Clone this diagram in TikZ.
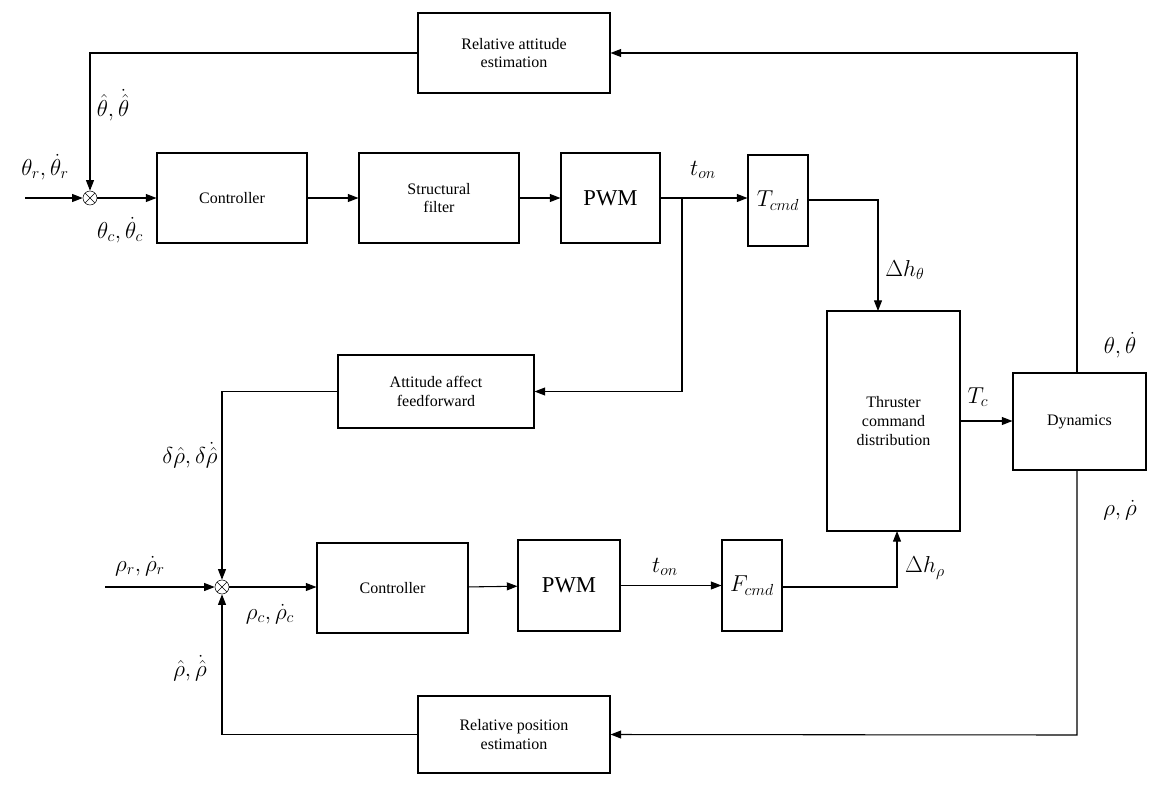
\documentclass[tikz,border=0pt]{standalone}
\usepackage{fontspec}
\setmainfont{Liberation Serif}
\usetikzlibrary{arrows.meta}
\begin{document}
\begin{tikzpicture}[x=0.75pt,y=-0.75pt,
  blk/.style={draw,thick,align=center,font=\fontsize{12}{14}\selectfont,inner sep=0},
  arr/.style={-{Triangle[length=8pt,width=6pt]},thick},
  sumn/.style={draw,circle,minimum size=10.5pt,inner sep=0,path picture={
     \draw (path picture bounding box.south west) -- (path picture bounding box.north east)
           (path picture bounding box.north west) -- (path picture bounding box.south east);}},
  lab/.style={font=\LARGE,inner sep=1pt}]
\useasboundingbox (0,0) rectangle (1157,793);
\def\bx#1#2#3#4#5#6{\node[blk,minimum width=#4*0.75pt-#2*0.75pt,minimum height=#5*0.75pt-#3*0.75pt] (#1) at ({(#2+#4)/2},{(#3+#5)/2}) {#6};}
\bx{rae}{418}{13}{610}{93}{Relative attitude\\estimation}
\bx{ct}{157}{153}{307}{243}{Controller}
\bx{sf}{359}{153}{519}{243}{Structural\\filter}
\bx{pt}{561}{153}{660}{243}{\fontsize{17}{19}\selectfont PWM}
\bx{tc}{748}{155}{808}{246}{\LARGE $T_{cmd}$}
\bx{th}{827}{311}{960}{531}{Thruster\\command\\distribution}
\bx{dy}{1013}{373}{1146}{470}{Dynamics}
\bx{ff}{338}{355}{534}{428}{Attitude affect\\feedforward}
\bx{cb}{317}{543}{468}{633}{Controller}
\bx{pb}{518}{540}{620}{631}{\fontsize{17}{19}\selectfont PWM}
\bx{fc}{722}{540}{782}{631}{\LARGE $F_{cmd}$}
\bx{rpe}{418}{696}{610}{773}{Relative position\\estimation}
\node[sumn] (s1) at (90,198) {};
\node[sumn] (s2) at (222,587) {};
\coordinate (in1) at (25,198);
\coordinate (in2) at (105,587);
\coordinate (sp) at (682,198);
\draw[arr] (in1) -- (s1);
\draw[arr] (s1) -- (ct);
\draw[arr] (ct) -- (sf);
\draw[arr] (sf) -- (pt);
\draw[arr] (pt.east) -- (tc.west |- pt.east);
\draw[arr] (tc.east |- 0,200) -| (878,311);
\draw[arr] (sp) |- (ff.east);
\draw[arr] (ff.west) -| (s2.north);
\draw[arr] (in2) -- (s2);
\draw[arr] (s2) -- (cb.west |- s2);
\draw[arr] (cb) -- (pb);
\draw[arr] (pb) -- (fc);
\draw[arr] (fc.east |- 0,587) -| (897,531);
\draw[arr] (th.east |- 0,421) -- (dy.west |- 0,421);
\draw[arr] (1077,373) -- (1077,53) -- (rae.east);
\draw[arr] (rae.west) -| (s1.north);
\draw[arr] (1077,470) -- (1077,735) -- (rpe.east);
\draw[arr] (rpe.west) -| (s2.south);
\node[lab] at (45,167) {$\theta_r,\dot\theta_r$};
\node[lab] at (113,105) {$\hat\theta,\dot{\hat\theta}$};
\node[lab] at (120,230) {$\theta_c,\dot\theta_c$};
\node[lab] at (703,170) {$t_{on}$};
\node[lab] at (905,270) {$\Delta h_\theta$};
\node[lab] at (978,397) {$T_c$};
\node[lab] at (1120,345) {$\theta,\dot\theta$};
\node[lab] at (1120,510) {$\rho,\dot\rho$};
\node[lab] at (190,455) {$\delta\hat\rho,\delta\dot{\hat\rho}$};
\node[lab] at (140,566) {$\rho_r,\dot\rho_r$};
\node[lab] at (270,614) {$\rho_c,\dot\rho_c$};
\node[lab] at (665,567) {$t_{on}$};
\node[lab] at (925,568) {$\Delta h_\rho$};
\node[lab] at (190,668) {$\hat\rho,\dot{\hat\rho}$};
\end{tikzpicture}
\end{document}
